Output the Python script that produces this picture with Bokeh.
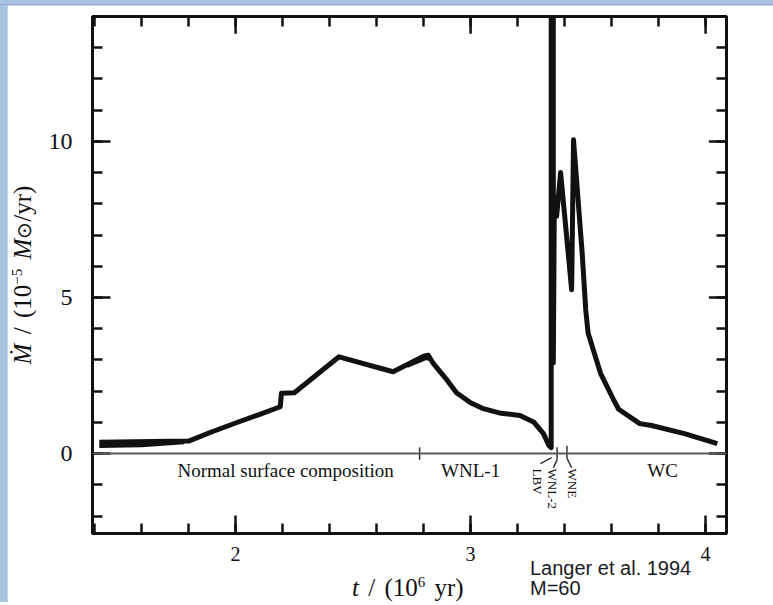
import math
from bokeh.plotting import figure
from bokeh.models import Label, Span, LinearAxis, FixedTicker, Range1d, Column, Div
from bokeh.embed import file_html
from bokeh.resources import INLINE

# ---- data ----
t_main = [1.42, 1.80, 1.90, 2.00, 2.10, 2.19, 2.195, 2.25, 2.44, 2.67, 2.80, 2.82,
          2.84, 2.90, 2.94, 3.00, 3.05, 3.13, 3.21, 3.27, 3.31, 3.333, 3.343,
          3.343, 3.352, 3.352, 3.356, 3.366, 3.383, 3.430, 3.438, 3.475, 3.49,
          3.50, 3.553, 3.61, 3.63, 3.72, 3.77, 3.91, 4.05]
mdot_main = [0.36, 0.40, 0.70, 0.98, 1.25, 1.50, 1.93, 1.95, 3.10, 2.62, 3.12, 3.15,
             2.90, 2.35, 1.95, 1.63, 1.45, 1.29, 1.22, 1.00, 0.64, 0.26, 0.19,
             15.0, 15.0, 2.90, 7.60, 7.60, 9.00, 5.25, 10.05, 6.40, 4.60,
             3.86, 2.57, 1.70, 1.42, 0.96, 0.90, 0.64, 0.32]
t_branch1 = [1.42, 1.60, 1.78]
mdot_branch1 = [0.24, 0.27, 0.36]
t_branch2 = [2.73, 2.81, 2.835]
mdot_branch2 = [2.80, 3.05, 3.00]

phase_names = ["Normal surface composition", "WNL-1", "WC"]
phase_t = [2.213, 3.00, 3.817]
small_phase_names = ["LBV", "WNL-2", "WNE"]
small_phase_t = [3.285, 3.349, 3.434]

mark_xs = [[2.783, 2.783], [3.297, 3.345], [3.368, 3.368], [3.368, 3.352],
           [3.410, 3.410], [3.410, 3.430]]
mark_ys = [[0.2, -0.2], [-0.32, -0.13], [0.2, -0.2], [-0.2, -0.45],
           [0.25, -0.15], [-0.15, -0.45]]

x_major = [2, 3, 4]
x_minor = [1.4, 1.6, 1.8, 2.0, 2.2, 2.4, 2.6, 2.8, 3.0, 3.2, 3.4, 3.6, 3.8, 4.0]
y_major = [0, 5, 10]
y_minor = [-2, -1, 0, 1, 2, 3, 4, 5, 6, 7, 8, 9, 10, 11, 12, 13, 14]

x_title_html = "<i>t</i> / (10<sup style='font-size:60%;vertical-align:super;line-height:0'>6</sup> yr)"
y_title_html = ("<i>Ṁ</i> / (10<sup style='font-size:60%;vertical-align:super;line-height:0'>−5</sup>"
                " <i>M</i><span style='font-size:80%'>⊙</span>/yr)")
credit = ["Langer et al. 1994", "M=60"]

SERIF = "Liberation Serif"
INK = "#111111"
X0, X1, Y0, Y1 = 1.391, 4.089, -2.56, 14.0

p = figure(width=766, height=600, output_backend="svg", toolbar_location=None,
           x_range=Range1d(X0, X1), y_range=Range1d(Y0, Y1),
           min_border_left=85, min_border_right=47, min_border_top=11,
           min_border_bottom=72)
p.background_fill_color = "white"
p.border_fill_color = "white"
p.outline_line_color = INK
p.outline_line_width = 3
p.grid.visible = False
p.xaxis.visible = False
p.yaxis.visible = False


def style_axis(ax, ticks, minors, font_size=None, standoff=0):
    ax.ticker = FixedTicker(ticks=ticks, minor_ticks=minors)
    ax.axis_line_color = INK
    ax.axis_line_width = 3
    ax.major_tick_in = 18
    ax.major_tick_out = 0
    ax.minor_tick_in = 10
    ax.minor_tick_out = 0
    ax.major_tick_line_color = INK
    ax.major_tick_line_width = 2.5
    ax.minor_tick_line_color = INK
    ax.minor_tick_line_width = 2.5
    if font_size:
        ax.major_label_text_font = SERIF
        ax.major_label_text_font_size = font_size
        ax.major_label_text_color = INK
        ax.major_label_standoff = standoff


bx = LinearAxis()
style_axis(bx, x_major, x_minor, "20px", 13)
p.add_layout(bx, "below")

ly = LinearAxis()
style_axis(ly, y_major, y_minor, "24px", 20)
p.add_layout(ly, "left")

# mirrored axes: tick marks only (no labels)
tx = LinearAxis()
style_axis(tx, [], x_minor)
p.add_layout(tx, "above")
ry = LinearAxis()
style_axis(ry, [], y_minor)
p.add_layout(ry, "right")
# longer major ticks on the mirrored axes
p.segment(x0=x_major, x1=x_major, y0=[Y1] * 3, y1=[Y1 - 0.55] * 3,
          line_color=INK, line_width=2.5)
p.segment(x0=[X1] * 3, x1=[X1 - 0.075] * 3, y0=y_major, y1=y_major,
          line_color=INK, line_width=2.5)

p.add_layout(Span(location=0, dimension="width", line_color="#5a5a5a", line_width=2))

p.line(t_main, mdot_main, line_color=INK, line_width=5, line_join="round")
p.line(t_branch1, mdot_branch1, line_color=INK, line_width=4, line_join="round")
p.line(t_branch2, mdot_branch2, line_color=INK, line_width=3.5, line_join="round")
p.multi_line(mark_xs, mark_ys, line_color="#333333", line_width=1.5)

for name, tx_ in zip(phase_names, phase_t):
    p.add_layout(Label(x=tx_, y=-0.55, text=name, text_font=SERIF, text_font_size="19px",
                       text_color=INK, text_align="center", text_baseline="middle"))
for name, tx_ in zip(small_phase_names, small_phase_t):
    p.add_layout(Label(x=tx_, y=-0.48, text=name, text_font=SERIF, text_font_size="13px",
                       text_color=INK, text_align="left", text_baseline="middle",
                       angle=-math.pi / 2))

p.margin = (5, 0, 0, 7)

# y-axis title, rotated (pivot at page (8, 390)); figure ends at y=605
y_title_div = Div(text=y_title_html, width=230, height=30, margin=(-215, 0, 0, 8),
                  styles={"font-family": SERIF, "font-size": "25px",
                          "line-height": "30px", "color": INK, "white-space": "nowrap",
                          "text-align": "center", "word-spacing": "3px",
                          "transform-origin": "0 0", "transform": "rotate(-90deg)"})
# x-axis title: top at page y=573 (previous child ends at 420)
x_title_div = Div(text=x_title_html, width=170, height=30, margin=(153, 0, 0, 352),
                  styles={"font-family": SERIF, "font-size": "25px",
                          "line-height": "30px", "color": INK, "white-space": "nowrap",
                          "word-spacing": "3px"})
# credit: top at page y=558 (previous child ends at 603)
credit_div = Div(text="<br>".join(credit), width=200, height=44,
                 margin=(-45, 0, 0, 530),
                 styles={"font-family": "Liberation Sans", "font-size": "20px",
                         "line-height": "20px", "color": "#1a1a24",
                         "white-space": "nowrap"})

page = Column(children=[p, y_title_div, x_title_div, credit_div],
              styles={"background": "linear-gradient(to bottom, #a7c3e2 0px, #a7c3e2 4px, "
                                    "#a6a6dc 4px, #a6a6dc 5px, #a7c3e2 5px)"})

open("out.html", "w").write(file_html(page, INLINE))
